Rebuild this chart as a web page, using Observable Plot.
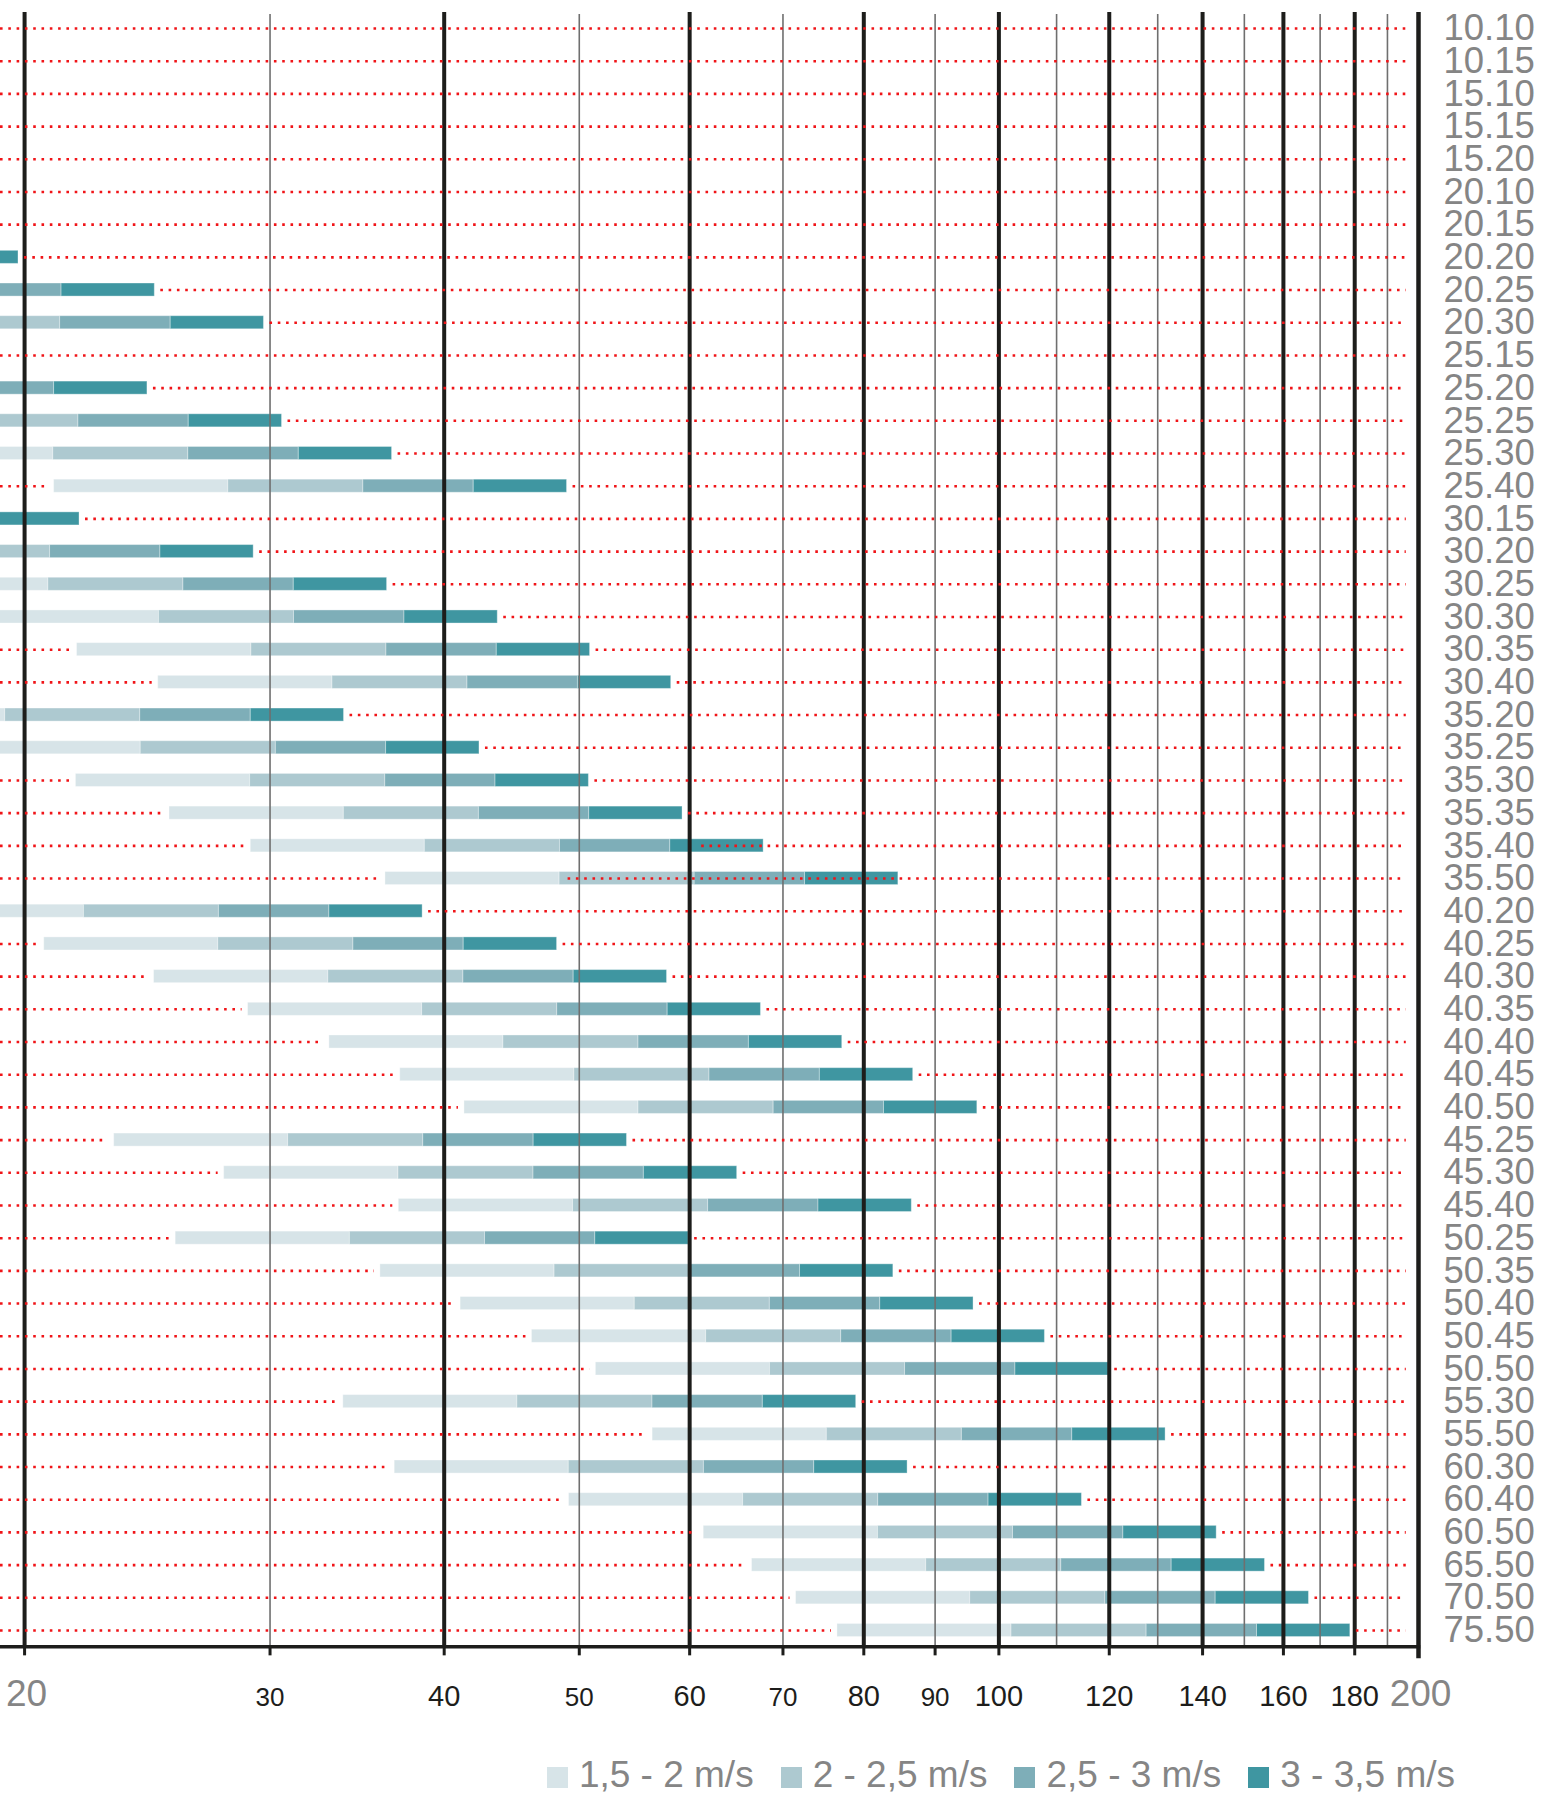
<!DOCTYPE html>
<html>
<head>
<meta charset="utf-8">
<script src="https://cdn.jsdelivr.net/npm/d3@7"></script>
<script src="https://cdn.jsdelivr.net/npm/@observablehq/plot@0.6"></script>
<style>
  html, body { margin: 0; padding: 0; background: #fff; }
  body { font-family: "Liberation Sans", Arial, Helvetica, sans-serif; width: 1542px; }
  #legend { display: flex; justify-content: flex-end; align-items: flex-end; padding-right: 87px; height: 66px; }
  .item { display: flex; align-items: baseline; margin-left: 27px; color: #858585; font-size: 37px; line-height: 1; }
  .sw { width: 21px; height: 21px; margin-right: 11px; display: inline-block; position: relative; top: 1px; }
</style>
</head>
<body>
<div id="chart"></div>
<div id="legend"></div>
<script>
// Row categories (top to bottom)
const rows = ["10.10","10.15","15.10","15.15","15.20","20.10","20.15","20.20","20.25","20.30",
  "25.15","25.20","25.25","25.30","25.40","30.15","30.20","30.25","30.30","30.35","30.40",
  "35.20","35.25","35.30","35.35","35.40","35.50","40.20","40.25","40.30","40.35","40.40","40.45","40.50",
  "45.25","45.30","45.40","50.25","50.35","50.40","50.45","50.50","55.30","55.50",
  "60.30","60.40","60.50","65.50","70.50","75.50"];

// Segment boundaries (value at 1.5, 2, 2.5, 3, 3.5 m/s); null = bar not visible
const v15 = [null,null,null,null,null,null,null,8.49,10.63,12.73,
  null,10.5,13.11,15.73,21,9.39,12.51,15.6,18.73,21.81,24.94,
  14.53,18.17,21.77,25.41,29.06,36.3,16.54,20.66,24.77,28.93,33.09,37.2,41.36,
  23.19,27.81,37.11,25.67,36,41.1,46.24,51.39,33.86,56.44,
  36.86,49.16,61.41,66.51,71.53,76.59];
const v20 = [null,null,null,null,null,null,null,11.31,14.17,16.97,
  null,14.0,17.49,20.97,28,12.51,16.69,20.8,24.97,29.09,33.26,
  19.37,24.23,29.03,33.89,38.74,48.4,22.06,27.54,33.03,38.57,44.11,49.6,55.14,
  30.91,37.09,49.49,34.23,48,54.8,61.66,68.51,45.14,75.26,
  49.14,65.54,81.89,88.69,95.37,102.11];
const v25 = [null,null,null,null,null,null,null,14.14,17.71,21.21,
  null,17.5,21.86,26.21,35,15.64,20.86,26.0,31.21,36.36,41.57,
  24.21,30.29,36.29,42.36,48.43,60.5,27.57,34.43,41.29,48.21,55.14,62.0,68.93,
  38.64,46.36,61.86,42.79,60,68.5,77.07,85.64,56.43,94.07,
  61.43,81.93,102.36,110.86,119.21,127.64];
const v30 = [null,null,null,null,null,null,null,16.97,21.26,25.46,
  null,21.0,26.23,31.46,42,18.77,25.03,31.2,37.46,43.63,49.89,
  29.06,36.34,43.54,50.83,58.11,72.6,33.09,41.31,49.54,57.86,66.17,74.4,82.71,
  46.37,55.63,74.23,51.34,72,82.2,92.49,102.77,67.71,112.89,
  73.71,98.31,122.83,133.03,143.06,153.17];
const v35 = [null,null,null,null,null,null,null,19.8,24.8,29.7,
  null,24.5,30.6,36.7,49,21.9,29.2,36.4,43.7,50.9,58.2,
  33.9,42.4,50.8,59.3,67.8,84.7,38.6,48.2,57.8,67.5,77.2,86.8,96.5,
  54.1,64.9,86.6,59.9,84,95.9,107.9,119.9,79.0,131.7,
  86.0,114.7,143.3,155.2,166.9,178.7];

// Dotted guide lines: where the right-hand part starts when it differs from the bar end
const dotRightStart = {"35.40": 60.6, "35.50": 48.6};
const dotFrom = 19.22, dotTo = 196;

const speeds = ["1,5 - 2 m/s", "2 - 2,5 m/s", "2,5 - 3 m/s", "3 - 3,5 m/s"];
const colors = ["#d7e4e8", "#adc9d0", "#7eaeb8", "#3f96a1"];

const thickGrid = [20, 40, 60, 80, 100, 120, 140, 160, 180];
const thinGrid = [30, 50, 70, 90, 110, 130, 150, 170, 190];
const tickGray = [20, 200];
const tickBig = [40, 60, 80, 100, 120, 140, 160, 180];
const tickSmall = [30, 50, 70, 90];

// Build tables
const bounds = [v15, v20, v25, v30, v35];
const segments = [];
rows.forEach((r, i) => {
  if (v15[i] == null) return;
  for (let k = 0; k < 4; k++) {
    segments.push({row: r, x1: bounds[k][i], x2: bounds[k + 1][i], speed: speeds[k]});
  }
});
const dotsFull = [], dotsLeft = [], dotsRight = [];
rows.forEach((r, i) => {
  if (v15[i] == null) { dotsFull.push({row: r, x1: dotFrom, x2: dotTo}); return; }
  if (v15[i] > dotFrom) dotsLeft.push({row: r, x1: dotFrom, x2: v15[i]});
  dotsRight.push({row: r, x1: dotRightStart[r] ?? v35[i], x2: dotTo});
});

const ink = "#1d1d1b", gray = "#858585", red = "#f01418";
const dotStyle = {stroke: red, strokeWidth: 2.6, strokeDasharray: "2.6 5.7", clip: true};

const chart = Plot.plot({
  width: 1542,
  height: 1727,
  marginLeft: 0,
  marginRight: 124,
  marginTop: 11.65,
  marginBottom: 80.65,
  style: {fontFamily: '"Liberation Sans", Arial, Helvetica, sans-serif', background: "#fff", overflow: "hidden"},
  x: {type: "log", domain: [19.22, 200]},
  y: {type: "band", domain: rows, paddingInner: 0.6, paddingOuter: 0.3, axis: null},
  color: {domain: speeds, range: colors},
  marks: [
    Plot.barX(segments, {x1: "x1", x2: "x2", y: "row", fill: "speed", stroke: "#fff", strokeOpacity: 0.35, strokeWidth: 1, clip: true}),
    Plot.ruleX(thinGrid, {x: d => d, stroke: "#6f6f6f", strokeWidth: 1.6, insetTop: 2.3, insetBottom: -1}),
    Plot.ruleX(thickGrid, {x: d => d, stroke: ink, strokeWidth: 4, insetTop: 0.3, insetBottom: -1}),
    Plot.ruleX([200], {x: d => d, stroke: ink, strokeWidth: 4.5, insetTop: 0.3, insetBottom: -12}),
    Plot.frame({anchor: "bottom", stroke: ink, strokeWidth: 3.5}),
    Plot.axisX({ticks: [...tickGray, ...tickBig, ...tickSmall], tickSize: 9, tickFormat: () => "", stroke: ink, strokeWidth: 3, label: null}),
    Plot.ruleY(dotsFull, {y: "row", x1: "x1", x2: "x2", ...dotStyle}),
    Plot.ruleY(dotsLeft, {y: "row", x1: "x1", x2: "x2", insetRight: 6, ...dotStyle}),
    Plot.ruleY(dotsRight, {y: "row", x1: "x1", x2: "x2", insetLeft: 6, ...dotStyle}),
    Plot.text(rows, {y: d => d, text: d => d, frameAnchor: "right", textAnchor: "start", dx: 25, lineAnchor: "middle", fontSize: 36.5, fill: gray}),
    Plot.text(tickGray, {x: d => d, text: d => String(d), frameAnchor: "bottom", lineAnchor: "bottom", dy: 59, dx: 2, fontSize: 37, fill: gray}),
    Plot.text(tickBig, {x: d => d, text: d => String(d), frameAnchor: "bottom", lineAnchor: "bottom", dy: 59, fontSize: 29, fill: ink}),
    Plot.text(tickSmall, {x: d => d, text: d => String(d), frameAnchor: "bottom", lineAnchor: "bottom", dy: 59, fontSize: 26, fill: ink})
  ]
});
document.getElementById("chart").appendChild(chart);

const legend = document.getElementById("legend");
speeds.forEach((s, i) => {
  const it = document.createElement("div");
  it.className = "item";
  const sw = document.createElement("span");
  sw.className = "sw";
  sw.style.background = colors[i];
  it.appendChild(sw);
  it.appendChild(document.createTextNode(s));
  legend.appendChild(it);
});
</script>
</body>
</html>
